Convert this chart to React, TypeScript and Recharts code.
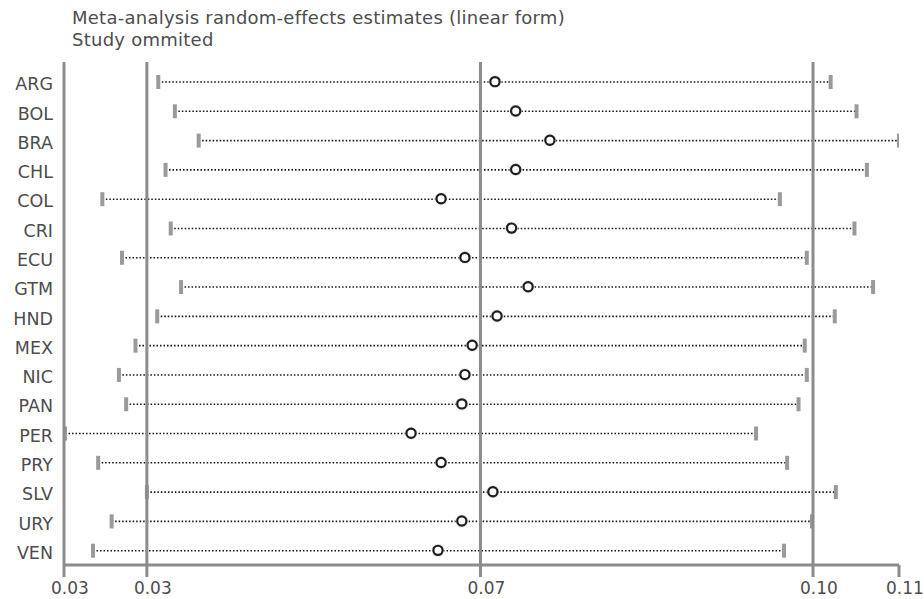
import React from 'react';
import { ComposedChart, Bar, Line, XAxis, YAxis, ReferenceLine } from 'recharts';

const studies = ['ARG', 'BOL', 'BRA', 'CHL', 'COL', 'CRI', 'ECU', 'GTM', 'HND', 'MEX', 'NIC', 'PAN', 'PER', 'PRY', 'SLV', 'URY', 'VEN'];
const lowerCI = [0.0346, 0.0362, 0.0385, 0.0353, 0.0292, 0.0358, 0.0311, 0.0368, 0.0345, 0.0324, 0.0308, 0.0315, 0.0256, 0.0288, 0.0335, 0.0301, 0.0283];
const estimate = [0.0671, 0.0691, 0.0724, 0.0691, 0.0619, 0.0687, 0.0642, 0.0703, 0.0673, 0.0649, 0.0642, 0.0639, 0.0590, 0.0619, 0.0669, 0.0639, 0.0616];
const upperCI = [0.0995, 0.1020, 0.1061, 0.1030, 0.0946, 0.1018, 0.0972, 0.1036, 0.0999, 0.0970, 0.0972, 0.0964, 0.0923, 0.0953, 0.1000, 0.0977, 0.0950];
const overallLower = 0.0335;
const overallEstimate = 0.0657;
const overallUpper = 0.0978;
const axisMin = 0.0255;
const axisMax = 0.1061;
const xTicks = [axisMin, overallLower, overallEstimate, overallUpper, axisMax];
const xTickLabels = ['0.03', '0.03', '0.07', '0.10', '0.11'];
const titleLines = ['Meta-analysis random-effects estimates (linear form)', 'Study ommited'];

const data = studies.map((s, i) => ({ study: s, lower: lowerCI[i], est: estimate[i], upper: upperCI[i] }));

const FONT = '"DejaVu Sans", Verdana, sans-serif';
const GRAY = '#8c8c8c';
const TEXT = '#4d4d4d';

const CIShape = (props: any) => {
  const { x, y, width, height } = props;
  const cy = y + height / 2;
  return (
    <g>
      <line x1={x} x2={x + width} y1={cy} y2={cy} stroke="#141414" strokeWidth={1.6} strokeDasharray="1.5 2" />
      <rect x={x - 2} y={y} width={4} height={height} fill="#9a9a9a" />
      <rect x={x + width - 2} y={y} width={4} height={height} fill="#9a9a9a" />
    </g>
  );
};

const EstDot = (props: any) => {
  const { cx, cy, index } = props;
  return (
    <g key={`d${index}`}>
      <circle cx={cx} cy={cy} r={6.5} fill="#d9d9d9" opacity={0.6} />
      <circle cx={cx} cy={cy} r={4.6} fill="#ffffff" stroke="#1e1e1e" strokeWidth={2.2} />
    </g>
  );
};

const XTick = (props: any) => {
  const { x, y, payload } = props;
  const i = xTicks.indexOf(payload.value);
  return (
    <text x={x} y={y} dx={-13} dy={15} textAnchor="start" fill={TEXT} fontSize={17} fontFamily={FONT}>
      {i >= 0 ? xTickLabels[i] : ''}
    </text>
  );
};

const YTick = (props: any) => {
  const { x, y, payload } = props;
  return (
    <text x={x} y={y} dy={2.6 + 6} textAnchor="end" fill={TEXT} fontSize={17.5} fontFamily={FONT}>
      {payload.value}
    </text>
  );
};

export default function App() {
  return (
    <div style={{ position: 'absolute', left: 0, top: 0, width: 924, height: 599, background: '#fff', overflow: 'hidden' }}>
      <div style={{ position: 'absolute', left: 72, top: 7, fontFamily: FONT, fontSize: 18, lineHeight: '22px', letterSpacing: '0.25px', color: TEXT, whiteSpace: 'nowrap' }}>
        {titleLines.map((t) => (
          <div key={t}>{t}</div>
        ))}
      </div>
      <ComposedChart
        width={924}
        height={599}
        data={data}
        layout="vertical"
        margin={{ top: 62, right: 25, bottom: 4, left: 0 }}
        style={{ position: 'absolute', left: 0, top: 0 }}
      >
        <XAxis
          type="number"
          domain={[axisMin, axisMax]}
          ticks={xTicks}
          interval={0}
          allowDataOverflow
          height={30}
          axisLine={{ stroke: GRAY, strokeWidth: 3 }}
          tickLine={{ stroke: GRAY, strokeWidth: 3 }}
          tickSize={12}
          tick={<XTick />}
        />
        <YAxis
          type="category"
          dataKey="study"
          width={64}
          padding={{ top: 5, bottom: 0 }}
          axisLine={{ stroke: GRAY, strokeWidth: 3 }}
          tickLine={false}
          tickSize={0}
          tickMargin={11}
          tick={<YTick />}
          interval={0}
        />
        <ReferenceLine x={overallLower} stroke={GRAY} strokeWidth={3} />
        <ReferenceLine x={overallEstimate} stroke={GRAY} strokeWidth={3} />
        <ReferenceLine x={overallUpper} stroke={GRAY} strokeWidth={3} />
        <Bar dataKey={(d: any) => [d.lower, d.upper]} barSize={14} shape={<CIShape />} isAnimationActive={false} />
        <Line dataKey="est" stroke="none" dot={<EstDot />} activeDot={false} isAnimationActive={false} />
      </ComposedChart>
    </div>
  );
}
